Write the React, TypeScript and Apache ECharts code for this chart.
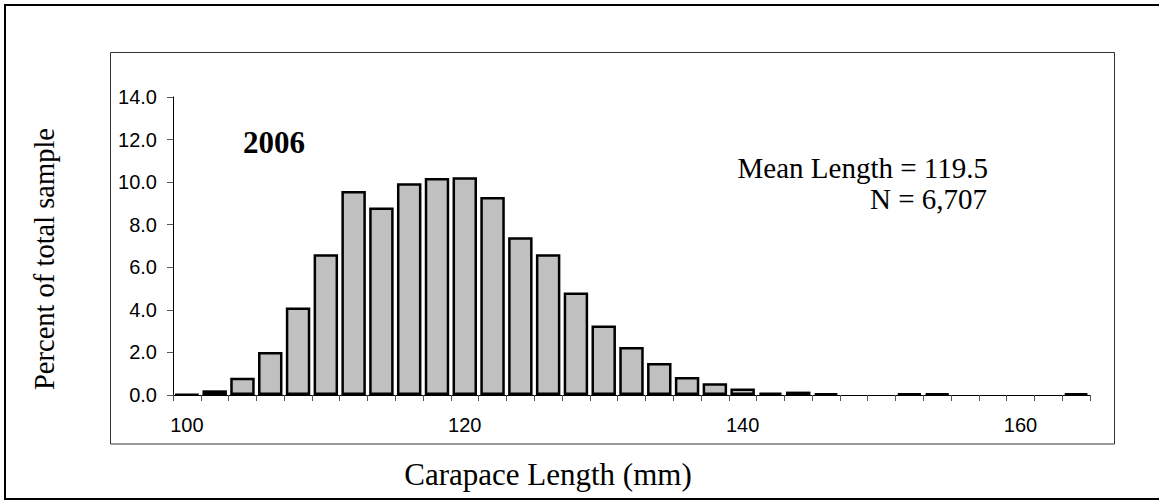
import React, { useEffect, useRef } from "react";
import * as echarts from "echarts";

const lengthBins = [
  "100", "102", "104", "106", "108", "110", "112", "114", "116", "118",
  "120", "122", "124", "126", "128", "130", "132", "134", "136", "138",
  "140", "142", "144", "146", "148", "150", "152", "154", "156", "158",
  "160", "162", "164",
];

const percentValues = [
  0.03, 0.22, 0.81, 2.02, 4.11, 6.61, 9.58, 8.81, 9.95, 10.2,
  10.23, 9.3, 7.41, 6.61, 4.81, 3.27, 2.25, 1.5, 0.84, 0.55,
  0.31, 0.11, 0.16, 0.08, 0, 0, 0.06, 0.06, 0, 0,
  0, 0, 0.08,
];

const yearLabel = "2006";
const meanLabel = "Mean Length = 119.5";
const countLabel = "N = 6,707";
const xTitle = "Carapace Length (mm)";
const yTitle = "Percent of total sample";

const sans = "Liberation Sans";
const serif = "Liberation Serif";

export default function App() {
  const ref = useRef<HTMLDivElement>(null);
  useEffect(() => {
    const chart = echarts.init(ref.current as HTMLDivElement, null, { renderer: "svg" });
    const barData = percentValues.map((v) =>
      v === 0 ? { value: v, itemStyle: { borderWidth: 0 } } : v
    );
    chart.setOption({
      animation: false,
      backgroundColor: "#ffffff",
      grid: { left: 173, right: 69, top: 97, bottom: 107, containLabel: false },
      xAxis: {
        type: "category",
        data: lengthBins,
        boundaryGap: true,
        axisLine: { show: true, lineStyle: { color: "#000", width: 1 } },
        axisTick: { show: true, interval: 0, length: 6, lineStyle: { color: "#555", width: 1 } },
        axisLabel: { interval: 9, margin: 20, fontFamily: sans, fontSize: 20, color: "#000" },
        splitLine: { show: false },
      },
      yAxis: {
        type: "value",
        min: 0,
        max: 14,
        interval: 2,
        axisLine: { show: true, lineStyle: { color: "#000", width: 1 } },
        axisTick: { show: true, length: 6, lineStyle: { color: "#555", width: 1 } },
        axisLabel: {
          formatter: (v: number) => v.toFixed(1),
          margin: 16,
          fontFamily: sans,
          fontSize: 20,
          color: "#000",
        },
        splitLine: { show: false },
      },
      series: [
        {
          type: "bar",
          data: barData,
          barCategoryGap: "12%",
          itemStyle: { color: "#c0c0c0", borderColor: "#000", borderWidth: 2.5 },
        },
      ],
      graphic: [
        {
          type: "rect",
          silent: true,
          shape: { x: 5, y: 5, width: 1170, height: 494 },
          style: { fill: "none", stroke: "#000", lineWidth: 2 },
        },
        {
          type: "rect",
          silent: true,
          shape: { x: 110.5, y: 52.5, width: 1004, height: 391.5 },
          style: { fill: "none", stroke: "#333", lineWidth: 1 },
        },
        {
          type: "text",
          x: 274,
          y: 142,
          style: {
            text: yearLabel,
            font: `bold 31px "${serif}"`,
            fill: "#000",
            align: "center",
            verticalAlign: "middle",
          },
        },
        {
          type: "text",
          x: 988,
          y: 167.5,
          style: {
            text: meanLabel,
            font: `29px "${serif}"`,
            fill: "#000",
            align: "right",
            verticalAlign: "middle",
          },
        },
        {
          type: "text",
          x: 987,
          y: 198.5,
          style: {
            text: countLabel,
            font: `29px "${serif}"`,
            fill: "#000",
            align: "right",
            verticalAlign: "middle",
          },
        },
        {
          type: "text",
          x: 548,
          y: 474,
          style: {
            text: xTitle,
            font: `31px "${serif}"`,
            fill: "#000",
            align: "center",
            verticalAlign: "middle",
          },
        },
        {
          type: "text",
          x: 44,
          y: 259,
          rotation: Math.PI / 2,
          style: {
            text: yTitle,
            font: `28.5px "${serif}"`,
            fill: "#000",
            align: "center",
            verticalAlign: "middle",
          },
        },
      ],
    });
    return () => chart.dispose();
  }, []);
  return (
    <div
      ref={ref}
      style={{ position: "absolute", left: 0, top: 0, width: 1159, height: 502 }}
    />
  );
}
